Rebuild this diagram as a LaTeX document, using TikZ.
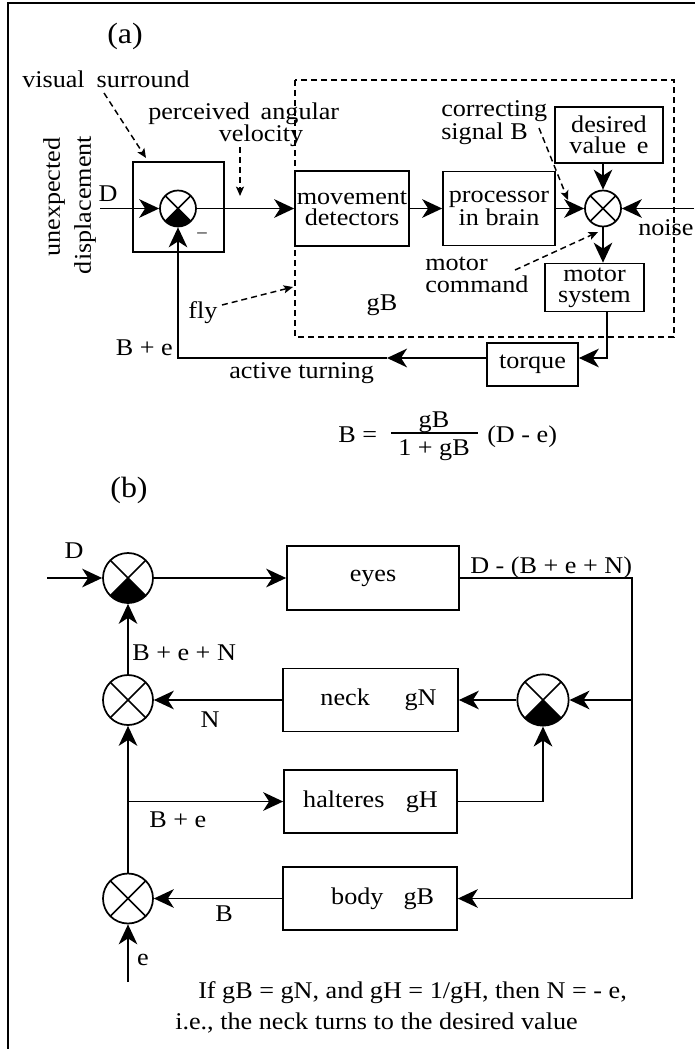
\documentclass[tikz,border=0pt]{standalone}
\usepackage{fontspec}
\setmainfont{Liberation Serif}[FakeStretch=1.09]
\usetikzlibrary{arrows.meta}
\begin{document}
\begin{tikzpicture}[x=0.75pt,y=-0.75pt,
  every node/.style={font=\fontsize{18}{16}\selectfont},
  arr/.style={line width=1.3pt,-{Stealth[length=15pt,width=14pt,inset=4.5pt]}},
  darr/.style={line width=1.1pt,dash pattern=on 4.5pt off 3pt,-{Stealth[length=7pt,width=6pt,inset=1.5pt]}},
  box/.style={draw,line width=1.3pt,rectangle,inner sep=0pt,align=center},
  lbl/.style={inner sep=0pt},
  big/.style={inner sep=0pt,font=\fontsize{22}{22}\selectfont},
  sumj/.style={circle,draw,line width=1.3pt,inner sep=0pt,minimum size=#1,
    path picture={\draw[line width=1.2pt]
      (path picture bounding box.north west) -- (path picture bounding box.south east)
      (path picture bounding box.north east) -- (path picture bounding box.south west);}},
  sumf/.style={circle,draw,line width=1.3pt,inner sep=0pt,minimum size=#1,
    path picture={\fill
      (path picture bounding box.center) -- (path picture bounding box.south west)
      -- (path picture bounding box.south east) -- cycle;
      \draw[line width=1.2pt]
      (path picture bounding box.north west) -- (path picture bounding box.south east)
      (path picture bounding box.north east) -- (path picture bounding box.south west);}}
]
\useasboundingbox (0,0) rectangle (695,1049);
% frame
\coordinate (f1) at (8,1049);
\coordinate (f2) at (8,3);
\coordinate (f3) at (695,3);
\draw[line width=1.3pt] (f1) -- (f2) -- (f3);

% ---------------- panel (a) ----------------
\node[big] (la) at (125,36) {(a)};
\draw[line width=1.1pt,dash pattern=on 4.5pt off 3pt] (295,80) rectangle (674,337);

\node[box,minimum width=68.25pt,minimum height=67.5pt] (flybox) at (178.5,207) {};
\node[sumf=27pt] (fc) at (178,208.5) {};
\node[box,minimum width=85.5pt,minimum height=56.25pt] (mov) at (352,208.5) {movement\\detectors};
\node[box,minimum width=84pt,minimum height=55.5pt] (proc) at (499,208.5) {processor\\in brain};
\node[sumj=27pt] (ca) at (603,208.5) {};
\node[box,minimum width=81pt,minimum height=42pt] (des) at (609,135) {desired\\value\hspace{0.45em}e};
\node[box,minimum width=74.25pt,minimum height=36pt] (mot) at (594.5,287.5) {motor\\system};
\node[box,minimum width=68.25pt,minimum height=32.25pt] (tq) at (532.5,364.5) {torque};

% labels
\node[lbl,anchor=base west] (vs) at (22,88) {visual\hspace{0.5em}surround};
\node[lbl,anchor=base west] (pa) at (148,119) {perceived\hspace{0.45em}angular};
\node[lbl,anchor=base] (ve) at (261,141) {velocity};
\node[lbl,rotate=90] (ux) at (54,197) {unexpected};
\node[lbl,rotate=90] (dp) at (85,205) {displacement};
\node[lbl] (dA) at (108,194) {D};
\node[lbl,font=\fontsize{13}{13}\selectfont] (mn) at (202,235) {–};
\node[lbl,anchor=base] (fl) at (203,318) {fly};
\node[lbl,anchor=base] (gb) at (382,310) {gB};
\node[lbl,anchor=base east] (be) at (173,355) {B + e};
\node[lbl,anchor=base west] (atn) at (229,378) {active turning};
\node[lbl,anchor=base west] (mc1) at (425,270) {motor};
\node[lbl,anchor=base west] (mc2) at (425,292) {command};
\node[lbl,anchor=base west] (cs1) at (441,116) {correcting};
\node[lbl,anchor=base west] (cs2) at (441,139) {signal B};
\node[lbl,anchor=base west] (nzl) at (638,235) {noise};

% dashed annotation arrows
\coordinate (vs1) at (104,93);  \coordinate (vs2) at (146,158);
\draw[darr] (vs1) -- (vs2);
\coordinate (ve1) at (240,147); \coordinate (ve2) at (240,196);
\draw[darr] (ve1) -- (ve2);
\coordinate (fl1) at (222,305); \coordinate (fl2) at (293,287);
\draw[darr] (fl1) -- (fl2);
\coordinate (mc3) at (515,270); \coordinate (mc4) at (598,232);
\draw[darr] (mc3) -- (mc4);
\coordinate (cs3) at (539,128); \coordinate (cs4) at (568,200);
\draw[darr] (cs3) -- (cs4);

% signal flow
\coordinate (dIn) at (100,208.5);
\draw[arr] (dIn) -- (fc.west);
\draw[arr] (fc.east) -- (mov.west);
\draw[arr] (mov.east) -- (proc.west);
\draw[arr] (proc.east) -- (ca.west);
\draw[arr] (ca |- des.south) -- (ca.north);
\coordinate (nz) at (694,208.5);
\draw[arr] (nz) -- (ca.east);
\draw[arr] (ca.south) -- (ca |- mot.north);
\coordinate (m1) at (607,311);
\coordinate (m2) at (607,358);
\draw[arr] (m1) -- (m2) -- (m2 -| tq.east);
\coordinate (atp) at (387,358);
\draw[arr] (tq.west |- m2) -- (atp);
\coordinate (fbc) at (178,358);
\draw[arr] (atp) -- (fbc) -- (fc.south);

% formula
\node[lbl,anchor=base west] (fb) at (338,442) {B =};
\node[lbl,anchor=base] (fn) at (434,427) {gB};
\node[lbl,anchor=base] (fd) at (434,455) {1 + gB};
\coordinate (fr1) at (391,433); \coordinate (fr2) at (478,433);
\draw[line width=1pt] (fr1) -- (fr2);
\node[lbl,anchor=base west] (fde) at (487,442) {(D - e)};

% ---------------- panel (b) ----------------
\node[big] (lb) at (129,490) {(b)};
\node[sumf=37.5pt] (c1) at (128,578) {};
\node[sumj=37.5pt] (c2) at (128,700) {};
\node[sumf=38.5pt] (c3) at (543,700) {};
\node[sumj=37.5pt] (c4) at (128,898.5) {};
\node[box,minimum width=129pt,minimum height=48pt] (eyes) at (373,578) {eyes};
\node[box,minimum width=131.25pt,minimum height=47.25pt] (neck) at (370.5,700) {\hspace*{12pt}neck\hspace{26pt}gN};
\node[box,minimum width=129.75pt,minimum height=47.25pt] (halt) at (370.5,801.5) {halteres\hspace{16pt}gH};
\node[box,minimum width=130.5pt,minimum height=47.25pt] (body) at (370,898.5) {\hspace*{19pt}body\hspace{15pt}gB};

\node[lbl] (dB) at (74,551) {D};
\node[lbl,anchor=base west] (dbe) at (470,573) {D - (B + e + N)};
\node[lbl,anchor=base west] (ben) at (132,660) {B + e + N};
\node[lbl] (nl) at (210,720) {N};
\node[lbl,anchor=base west] (bel) at (149,827) {B + e};
\node[lbl] (bl) at (224,914) {B};
\node[lbl] (el) at (143,960) {e};
\node[lbl,anchor=base west] (t1) at (198,998) {If gB = gN, and gH = 1/gH, then N = - e,};
\node[lbl,anchor=base west] (t2) at (175,1029) {i.e., the neck turns to the desired value};

\coordinate (dinb) at (47,578);
\draw[arr] (dinb) -- (c1.west);
\draw[arr] (c1.east) -- (eyes.west);
\coordinate (r1) at (632,578);
\coordinate (r2) at (632,898.5);
\draw[arr] (eyes.east) -- (r1) -- (r2) -- (body.east);
\coordinate (r3) at (632,700);
\draw[arr] (r3) -- (c3.east);
\draw[arr] (c3.west) -- (neck.east);
\draw[arr] (neck.west) -- (c2.east);
\draw[arr] (halt.east) -- (c3 |- halt.east) -- (c3.south);
\draw[arr] (body.west) -- (c4.east);
\coordinate (ein) at (128,982);
\draw[arr] (ein) -- (c4.south);
\draw[arr] (c4.north) -- (c2.south);
\draw[arr] (c2.north) -- (c1.south);
\coordinate (br) at (128,801.5);
\draw[arr] (br) -- (halt.west);
\end{tikzpicture}
\end{document}
